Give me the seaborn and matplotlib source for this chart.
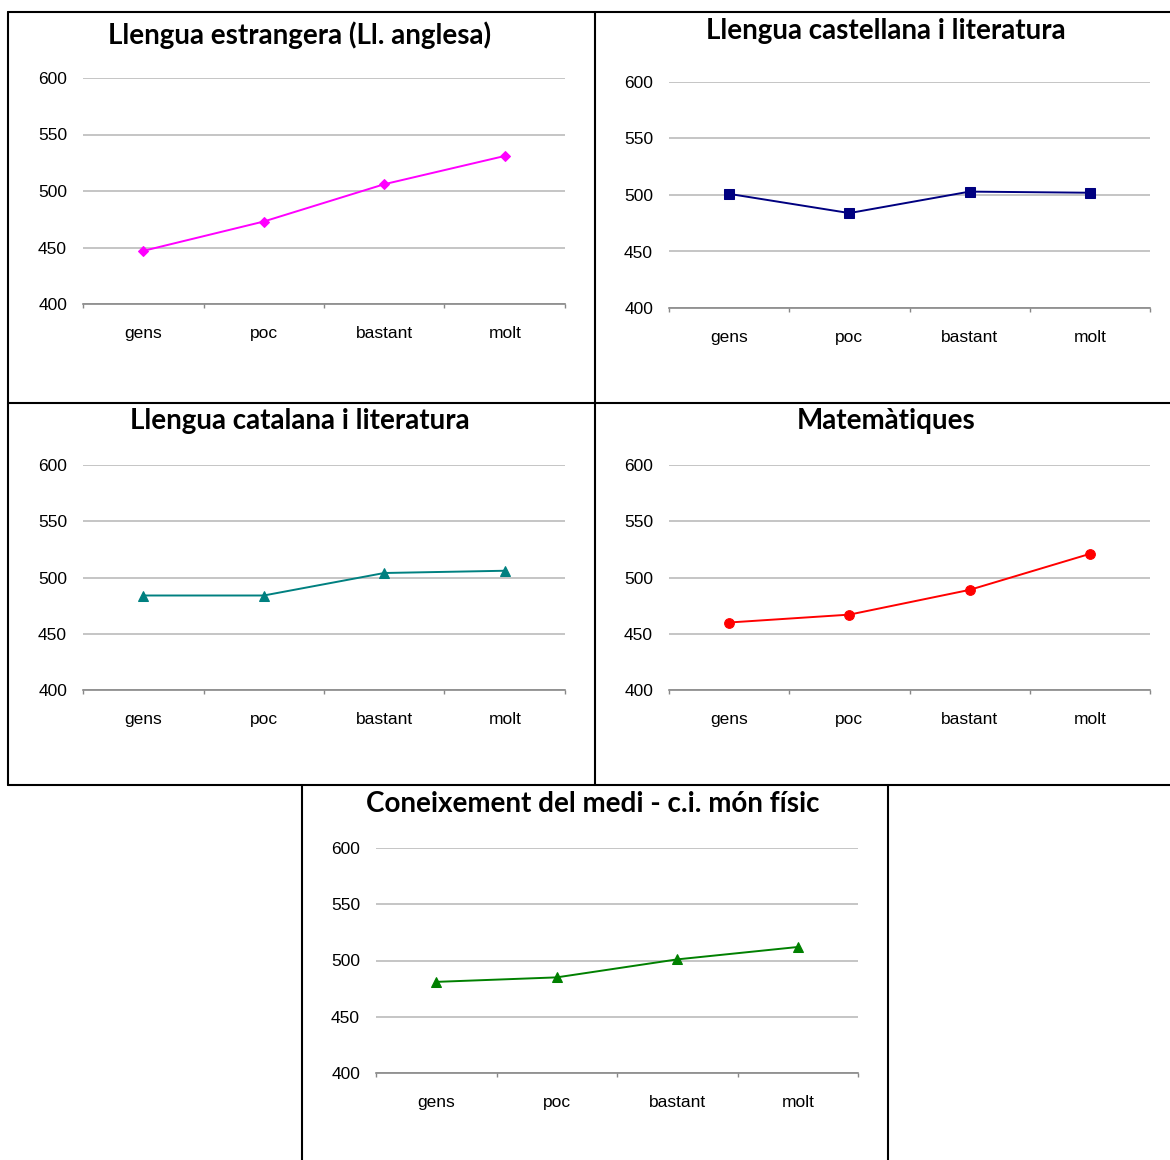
import matplotlib
matplotlib.use("Agg")
import matplotlib.pyplot as plt
from matplotlib.lines import Line2D
import pandas as pd
import seaborn as sns

# categories and values
categories = ["gens", "poc", "bastant", "molt"]
titles = ["Llengua estrangera (Ll. anglesa)",
          "Llengua castellana i literatura",
          "Llengua catalana i literatura",
          "Matemàtiques",
          "Coneixement del medi - c.i. món físic"]
anglesa = [447, 473, 506, 531]
castellana = [501, 484, 503, 502]
catalana = [484, 484, 504, 506]
matematiques = [460, 467, 489, 521]
medi = [481, 485, 501, 512]
y_ticks = [400, 450, 500, 550, 600]

series = [anglesa, castellana, catalana, matematiques, medi]
colors = ["#FF00FF", "#000080", "#008080", "#FF0000", "#008000"]
markers = ["D", "s", "^", "o", "^"]
msizes = [5.5, 7, 7, 7, 7]

W, H = 1170, 1160
sns.set_theme(style="white")
plt.rcParams['font.family'] = ['Liberation Sans', 'DejaVu Sans']
fig = plt.figure(figsize=(W / 100, H / 100), dpi=100)

# axes boxes in pixels: left, top, right, bottom ; title centre x, y
boxes = [(83, 78, 565, 304, 300, 35),
         (669, 82, 1150, 308, 886, 31),
         (83, 465, 565, 690, 300, 421),
         (669, 465, 1150, 690, 886, 421),
         (376, 848, 858, 1073, 593, 804)]

for vals, title, col, mk, ms, (l, t, r, b, tx, ty) in zip(series, titles, colors, markers, msizes, boxes):
    ax = fig.add_axes([l / W, 1 - b / H, (r - l) / W, (b - t) / H])
    df = pd.DataFrame({"cat": categories, "val": vals})
    sns.lineplot(data=df, x="cat", y="val", sort=False, color=col, marker=mk,
                 markersize=ms, markeredgecolor=col, linewidth=1.4, ax=ax)
    ax.set_xlim(-0.5, 3.5)
    ax.set_ylim(400, 600)
    ax.set_yticks(y_ticks)
    ax.set_xticks(range(4))
    ax.set_xticklabels(categories)
    ax.set_xticks([-0.5, 0.5, 1.5, 2.5, 3.5], minor=True)
    ax.tick_params(axis="x", which="major", bottom=False, length=0, pad=15.5,
                   labelsize=12.5, colors="black")
    ax.tick_params(axis="x", which="minor", bottom=True, length=3, width=1,
                   color="#888888", direction="out")
    ax.tick_params(axis="y", left=False, length=0, pad=11.5, labelsize=12.5, colors="black")
    ax.grid(axis="y", color="#c0c0c0", linewidth=1.3)
    for s in ["left", "right", "top"]:
        ax.spines[s].set_visible(False)
    ax.spines["bottom"].set_color("#888888")
    ax.spines["bottom"].set_linewidth(1.2)
    ax.set_xlabel("")
    ax.set_ylabel("")
    fig.text(tx / W, 1 - ty / H, title, ha="center", va="center", color="black",
             fontsize=20, fontweight="bold", family=["Lato", "DejaVu Sans"])

# panel borders
def hline(y, x0, x1):
    fig.add_artist(Line2D([x0 / W, x1 / W], [1 - y / H, 1 - y / H], color="black", linewidth=1.5))

def vline(x, y0, y1):
    fig.add_artist(Line2D([x / W, x / W], [1 - y0 / H, 1 - y1 / H], color="black", linewidth=1.5))

hline(12, 8, 1170)
hline(403, 8, 1170)
hline(785, 8, 1170)
vline(8, 12, 785)
vline(595, 12, 785)
vline(302, 785, 1160)
vline(888, 785, 1160)

fig.savefig("out.png", dpi=100, facecolor="white")
